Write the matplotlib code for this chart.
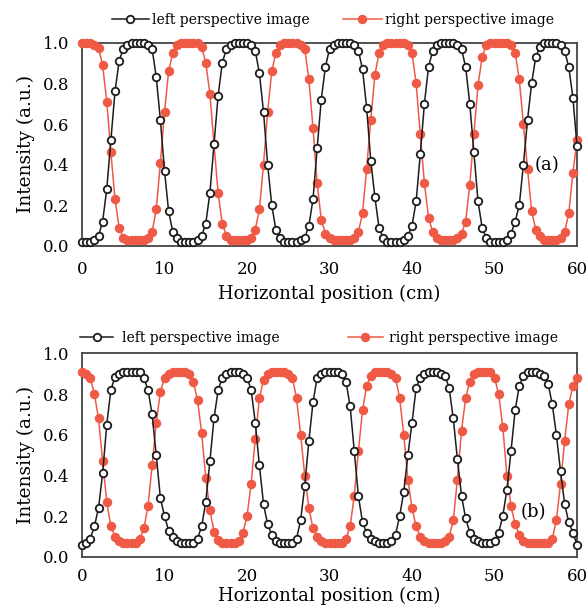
import matplotlib as mpl
import matplotlib.pyplot as plt
import numpy as np

# sampling positions (cm), 0.5 cm step
positions = np.linspace(0, 60, 121)

# panel (a)
left_a = [0.02, 0.02, 0.02, 0.03, 0.05, 0.12, 0.28, 0.52, 0.76, 0.91,
          0.97, 0.99, 1.0, 1.0, 1.0, 1.0, 0.99, 0.97, 0.83, 0.62,
          0.37, 0.17, 0.07, 0.04, 0.02, 0.02, 0.02, 0.02, 0.03, 0.05,
          0.11, 0.26, 0.50, 0.74, 0.90, 0.97, 0.99, 1.0, 1.0, 1.0,
          1.0, 0.99, 0.96, 0.85, 0.66, 0.40, 0.20, 0.08, 0.04, 0.02,
          0.02, 0.02, 0.02, 0.03, 0.04, 0.10, 0.23, 0.48, 0.72, 0.88,
          0.97, 0.99, 1.0, 1.0, 1.0, 1.0, 0.99, 0.96, 0.87, 0.68,
          0.42, 0.24, 0.09, 0.04, 0.02, 0.02, 0.02, 0.02, 0.03, 0.05,
          0.10, 0.22, 0.45, 0.70, 0.88, 0.96, 0.99, 1.0, 1.0, 1.0,
          1.0, 0.99, 0.97, 0.88, 0.70, 0.46, 0.22, 0.09, 0.04, 0.02,
          0.02, 0.02, 0.02, 0.03, 0.06, 0.12, 0.20, 0.40, 0.62, 0.80,
          0.93, 0.98, 1.0, 1.0, 1.0, 1.0, 0.99, 0.96, 0.88, 0.73,
          0.49]
right_a = [1.0, 1.0, 1.0, 0.99, 0.975, 0.89, 0.71, 0.46, 0.23, 0.09,
           0.04, 0.03, 0.03, 0.03, 0.03, 0.03, 0.04, 0.07, 0.18, 0.41,
           0.66, 0.86, 0.95, 0.99, 1.0, 1.0, 1.0, 1.0, 1.0, 0.98,
           0.90, 0.75, 0.50, 0.26, 0.11, 0.05, 0.03, 0.03, 0.03, 0.03,
           0.03, 0.04, 0.08, 0.18, 0.40, 0.66, 0.86, 0.95, 0.99, 1.0,
           1.0, 1.0, 1.0, 0.99, 0.97, 0.82, 0.58, 0.31, 0.13, 0.06,
           0.04, 0.03, 0.03, 0.03, 0.03, 0.03, 0.04, 0.07, 0.16, 0.38,
           0.62, 0.84, 0.95, 0.99, 1.0, 1.0, 1.0, 1.0, 1.0, 0.99,
           0.95, 0.80, 0.55, 0.31, 0.14, 0.07, 0.04, 0.03, 0.03, 0.03,
           0.03, 0.04, 0.06, 0.12, 0.30, 0.55, 0.79, 0.93, 0.99, 1.0,
           1.0, 1.0, 1.0, 1.0, 0.99, 0.95, 0.82, 0.60, 0.38, 0.17,
           0.08, 0.05, 0.03, 0.03, 0.03, 0.03, 0.04, 0.07, 0.16, 0.36,
           0.52]

# panel (b)
left_b = [0.06, 0.07, 0.09, 0.15, 0.24, 0.41, 0.65, 0.82, 0.885, 0.90,
          0.91, 0.91, 0.91, 0.91, 0.91, 0.88, 0.82, 0.70, 0.50, 0.29,
          0.20, 0.13, 0.10, 0.08, 0.07, 0.07, 0.07, 0.07, 0.09, 0.15,
          0.27, 0.47, 0.68, 0.82, 0.88, 0.90, 0.91, 0.91, 0.91, 0.90,
          0.88, 0.82, 0.66, 0.45, 0.26, 0.16, 0.11, 0.08, 0.07, 0.07,
          0.07, 0.07, 0.09, 0.18, 0.35, 0.57, 0.76, 0.88, 0.90, 0.91,
          0.91, 0.91, 0.91, 0.90, 0.86, 0.74, 0.52, 0.30, 0.17, 0.12,
          0.09, 0.08, 0.07, 0.07, 0.07, 0.08, 0.11, 0.20, 0.32, 0.50,
          0.66, 0.83, 0.88, 0.90, 0.91, 0.91, 0.91, 0.90, 0.89, 0.83,
          0.68, 0.48, 0.30, 0.19, 0.12, 0.09, 0.08, 0.07, 0.07, 0.07,
          0.08, 0.12, 0.20, 0.33, 0.52, 0.72, 0.84, 0.89, 0.91, 0.91,
          0.91, 0.90, 0.89, 0.85, 0.75, 0.60, 0.42, 0.26, 0.17, 0.12,
          0.06]
right_b = [0.91, 0.90, 0.88, 0.80, 0.68, 0.47, 0.27, 0.15, 0.10, 0.08,
           0.07, 0.07, 0.07, 0.07, 0.09, 0.14, 0.25, 0.45, 0.66, 0.81,
           0.88, 0.90, 0.91, 0.91, 0.91, 0.91, 0.90, 0.86, 0.77, 0.61,
           0.39, 0.23, 0.125, 0.085, 0.07, 0.07, 0.07, 0.07, 0.08, 0.12,
           0.20, 0.36, 0.58, 0.78, 0.87, 0.90, 0.91, 0.91, 0.91, 0.91,
           0.90, 0.88, 0.78, 0.60, 0.40, 0.24, 0.14, 0.10, 0.08, 0.07,
           0.07, 0.07, 0.07, 0.07, 0.09, 0.15, 0.30, 0.52, 0.72, 0.84,
           0.89, 0.91, 0.91, 0.91, 0.91, 0.90, 0.88, 0.78, 0.60, 0.38,
           0.24, 0.15, 0.10, 0.08, 0.07, 0.07, 0.07, 0.07, 0.08, 0.10,
           0.18, 0.38, 0.62, 0.78, 0.86, 0.90, 0.91, 0.91, 0.91, 0.91,
           0.88, 0.80, 0.64, 0.40, 0.25, 0.16, 0.11, 0.08, 0.07, 0.07,
           0.07, 0.07, 0.07, 0.07, 0.09, 0.18, 0.36, 0.57, 0.75, 0.84,
           0.88]

labels = ['left perspective image', 'right perspective image']
x_ticks = [0, 10, 20, 30, 40, 50, 60]
y_ticks = [0.0, 0.2, 0.4, 0.6, 0.8, 1.0]

RED = '#ee5a45'
BLACK = '#1c1c1c'


def draw_panel(ax, left, right, tag, tag_xy, leg_specs, xpad, xlabpad):
    r, = ax.plot(positions, right, '-', color=RED, lw=1.1, marker='o', ms=5.8,
                 mfc=RED, mec=RED, clip_on=False, zorder=3)
    b, = ax.plot(positions, left, '-', color=BLACK, lw=1.1, marker='o', ms=5.4,
                 mfc='white', mec=BLACK, mew=1.3, clip_on=False, zorder=4)
    ax.set_xlim(0, 60)
    ax.set_ylim(0, 1.0)
    ax.set_xticks(x_ticks)
    ax.set_yticks(y_ticks)
    ax.set_yticklabels(['%.1f' % v for v in y_ticks])
    ax.tick_params(axis='both', length=0, labelsize=12)
    ax.tick_params(axis='x', pad=xpad)
    ax.tick_params(axis='y', pad=9)
    for sp in ax.spines.values():
        sp.set_color('#444444')
        sp.set_linewidth(1.3)
    ax.set_xlabel('Horizontal position (cm)', fontsize=13, labelpad=xlabpad)
    ax.set_ylabel('Intensity (a.u.)', fontsize=13.4, labelpad=6)
    ax.text(tag_xy[0], tag_xy[1], tag, fontsize=13, ha='center', va='center')

    legs = []
    for h, lab, (lx, ly, hl, tp) in zip([b, r], labels, leg_specs):
        lg = ax.legend([h], [lab], loc='center left', bbox_to_anchor=(lx, ly),
                       frameon=False, fontsize=10, handlelength=hl,
                       handletextpad=tp, borderpad=0, borderaxespad=0,
                       numpoints=1)
        legs.append(lg)
    ax.add_artist(legs[0])


mpl.rcParams['font.family'] = 'DejaVu Serif'

fig = plt.figure(figsize=(5.87, 6.09), dpi=100)
ax1 = fig.add_axes([0.1397, 0.5961, 0.8433, 0.3338])
ax2 = fig.add_axes([0.1397, 0.0854, 0.8433, 0.3345])

draw_panel(ax1, left_a, right_a, '(a)', (56.4, 0.40),
           [(0.060, 1.112, 2.7, 0.2), (0.527, 1.112, 2.8, 0.25)], 11, 5)
draw_panel(ax2, left_b, right_b, '(b)', (54.75, 0.22),
           [(-0.004, 1.075, 2.4, 0.6), (0.537, 1.075, 2.5, 0.43)], 8, 1)

plt.savefig('out.png', dpi=100)
